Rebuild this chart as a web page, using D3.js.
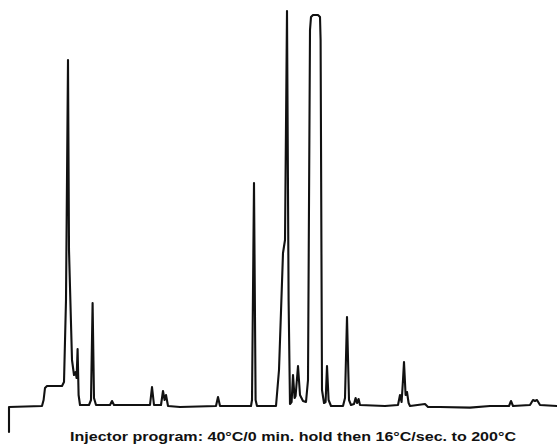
<!DOCTYPE html>
<html>
<head>
<meta charset="utf-8">
<script src="https://cdn.jsdelivr.net/npm/d3@7"></script>
<style>
  html, body { margin: 0; padding: 0; background: #fff; }
  .caption { font-family: "Liberation Sans", Arial, sans-serif; font-weight: bold; }
</style>
</head>
<body>
<div id="chart"></div>
<script>
// retention time (min) and detector signal (% of full scale)
var retention = [
  0, 0, 1.65, 1.73, 1.8, 1.9, 2.65, 2.75, 2.85, 2.95, 3.0, 3.05, 3.15, 3.25,
  3.33, 3.38, 3.43, 3.48, 3.55, 4.0, 4.1, 4.18, 4.25, 4.35, 5.05, 5.15, 5.25,
  7.05, 7.15, 7.25, 7.6, 7.7, 7.78, 7.85, 7.95, 8.55, 10.35, 10.45, 10.55,
  12.1, 12.15, 12.25, 12.33, 12.4, 13.35, 13.5, 13.7, 13.8, 13.9, 13.98, 14.05,
  14.13, 14.2, 14.28, 14.33, 14.45, 14.55, 14.7, 14.85,
  14.95, 15.05, 15.1, 15.2, 15.45, 15.55, 15.58, 15.65, 15.75,
  15.83, 15.9, 15.98, 16.1, 16.7, 16.8, 16.9, 17.0, 17.1,
  17.25, 17.33, 17.4, 17.48, 17.55, 18.8,
  19.45, 19.55, 19.63, 19.7, 19.75, 19.83, 19.9, 19.98, 20.05,
  20.8, 20.95, 21.55, 23.05, 24.05, 25.0, 25.1, 25.2,
  26.05, 26.2, 26.3, 26.4, 26.55, 27.4
];
var signal = [
  -6.5, -0.25, 0, 1.5, 4.5, 5, 5, 6, 26.5, 86.5, 39, 29.75, 11.5, 7.75,
  8.5, 7, 14.25, 2.75, 0.25, 0.25, 1.5, 25.75, 2, 0.25, 0.25, 1.25, 0.25,
  0.25, 4.75, 0.25, 0.25, 3.75, 1.5, 2.75, 0, -0.25, 0, 2.25, 0,
  0, 1.5, 55.75, 1.5, 0, 0, 9, 38.25, 41.5, 98.75, 26.5, 0.5,
  1, 7.75, 2, 2.5, 10, 2.75, 1.25, 1,
  6.5, 94, 97.25, 97.75, 97.75, 97.25, 91.5, 4, 0.75,
  1, 10, 1.5, 0, 0, 2, 22.25, 1.5, 0.25,
  0.5, 2, 0.75, 1.75, 0.25, 0,
  0.25, 2.75, 1, 6.5, 11, 2.75, 3.5, 0.75, 0,
  0.5, -0.25, -0.25, -0.4, 0, 0, 1.25, 0,
  0.25, 1.5, 1.25, 1.5, 0.25, 0
];
var caption = "Injector program: 40\u00b0C/0 min. hold then 16\u00b0C/sec. to 200\u00b0C";

var svgWidth = 557,
  svgHeight = 445;

var svg = d3
  .select("#chart")
  .append("svg")
  .attr("width", svgWidth)
  .attr("height", svgHeight);

var x = d3.scaleLinear().domain([0, 27.4]).range([9, 557]);
var y = d3.scaleLinear().domain([0, 100]).range([406, 6]);

var points = retention.map(function (t, i) {
  return { t: t, s: signal[i] };
});

// TRACE
var line = d3
  .line()
  .x(function (d) {
    return x(d.t);
  })
  .y(function (d) {
    return y(d.s);
  });

svg
  .append("path")
  .datum(points)
  .attr("d", line)
  .attr("fill", "none")
  .attr("stroke", "#111")
  .attr("stroke-width", 2.1)
  .attr("stroke-linejoin", "round")
  .attr("stroke-linecap", "round");

// CAPTION
svg
  .append("text")
  .attr("class", "caption")
  .attr("x", 70)
  .attr("y", 441)
  .attr("font-size", 12.5)
  .attr("textLength", 446)
  .attr("lengthAdjust", "spacingAndGlyphs")
  .attr("fill", "#111")
  .text(caption);
</script>
</body>
</html>
